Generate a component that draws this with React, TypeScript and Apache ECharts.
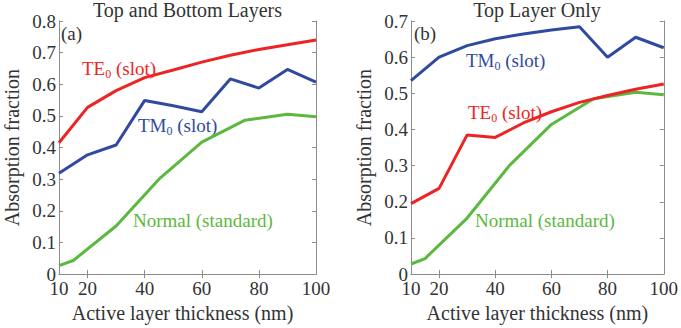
import React, { useEffect, useRef } from "react";
import * as echarts from "echarts";

const thickness = [10, 20, 30, 40, 50, 60, 70, 80, 90, 100];
const normalThickness = [10, 15, 30, 45, 60, 75, 90, 100];

const teBoth = [0.415, 0.527, 0.58, 0.621, 0.645, 0.67, 0.692, 0.71, 0.725, 0.74];
const tmBoth = [0.319, 0.377, 0.408, 0.549, 0.532, 0.513, 0.617, 0.588, 0.647, 0.607];
const normalBoth = [0.027, 0.043, 0.152, 0.3, 0.417, 0.486, 0.505, 0.497];

const teTop = [0.195, 0.237, 0.385, 0.378, 0.418, 0.449, 0.475, 0.494, 0.511, 0.526];
const tmTop = [0.535, 0.6, 0.632, 0.651, 0.664, 0.675, 0.684, 0.6, 0.655, 0.626];
const normalTop = [0.028, 0.043, 0.155, 0.3, 0.414, 0.485, 0.503, 0.496];

const xLabelValues = [10, 20, 40, 60, 80, 100];
const xTickValues = [20, 40, 60, 80];

const titles = ["Top and Bottom Layers", "Top Layer Only"];
const panelTags = ["(a)", "(b)"];
const xName = "Active layer thickness (nm)";
const yName = "Absorption fraction";

const RED = "#ee2424";
const BLUE = "#2f4a9e";
const GREEN = "#5cb83e";
const FONT = "'Liberation Serif', 'Times New Roman', serif";
const BOX = "#8c8c8c";
const TXT = "#333333";

function pairs(xs: number[], ys: number[]) {
  return xs.map((x, i) => [x, ys[i]]);
}

function subLabel(x: number, y: number, main: string, sub: string, rest: string, color: string) {
  return {
    type: "text",
    x,
    y,
    style: {
      text: `{m|${main}}{s|${sub}}{m|${rest}}`,
      fill: color,
      fontFamily: FONT,
      verticalAlign: "middle",
      rich: {
        m: { fontSize: 19, fontFamily: FONT, fill: color, lineHeight: 24 },
        s: { fontSize: 12, fontFamily: FONT, fill: color, lineHeight: 12, verticalAlign: "bottom" },
      },
    },
  };
}

function plainLabel(x: number, y: number, text: string, color: string, size = 19) {
  return {
    type: "text",
    x,
    y,
    style: { text, fill: color, fontSize: size, fontFamily: FONT, verticalAlign: "middle" },
  };
}

export default function App() {
  const ref = useRef<HTMLDivElement>(null);
  useEffect(() => {
    if (!ref.current) return;
    const chart = echarts.init(ref.current, undefined, { renderer: "svg" });
    const grids = [
      { left: 59, top: 21, width: 257, height: 256 },
      { left: 411, top: 21, width: 255, height: 256 },
    ];
    const yMax = [0.8, 0.7];
    const xAxis: any[] = [];
    const yAxis: any[] = [];
    [0, 1].forEach((g) => {
      xAxis.push({
        type: "value",
        gridIndex: g,
        min: 10,
        max: 100,
        position: "bottom",
        name: xName,
        nameLocation: "middle",
        nameGap: 23,
        nameTextStyle: { fontSize: 20, fontFamily: FONT, color: TXT, padding: g === 0 ? [0, 10, 0, 0] : 0 },
        axisLine: { show: true, lineStyle: { color: BOX, width: 1 } },
        axisTick: { show: true, inside: true, length: 4, customValues: xTickValues, lineStyle: { color: BOX } },
        axisLabel: { customValues: xLabelValues, fontSize: 19, fontFamily: FONT, color: TXT, margin: 7, lineHeight: 15 },
        splitLine: { show: false },
      });
      xAxis.push({
        type: "value",
        gridIndex: g,
        min: 10,
        max: 100,
        position: "top",
        axisLine: { show: true, lineStyle: { color: BOX, width: 1 } },
        axisTick: { show: true, inside: true, length: 4, customValues: xTickValues, lineStyle: { color: BOX } },
        axisLabel: { show: false },
        splitLine: { show: false },
      });
      yAxis.push({
        type: "value",
        gridIndex: g,
        min: 0,
        max: yMax[g],
        interval: 0.1,
        position: "left",
        name: yName,
        nameLocation: "middle",
        nameGap: 37,
        nameTextStyle: { fontSize: 20, fontFamily: FONT, color: TXT },
        axisLine: { show: true, lineStyle: { color: BOX, width: 1 } },
        axisTick: { show: true, inside: true, length: 4, lineStyle: { color: BOX } },
        axisLabel: { fontSize: 19, fontFamily: FONT, color: TXT, margin: 3, lineHeight: 13 },
        splitLine: { show: false },
      });
      yAxis.push({
        type: "value",
        gridIndex: g,
        min: 0,
        max: yMax[g],
        interval: 0.1,
        position: "right",
        axisLine: { show: true, lineStyle: { color: BOX, width: 1 } },
        axisTick: { show: true, inside: true, length: 4, lineStyle: { color: BOX } },
        axisLabel: { show: false },
        splitLine: { show: false },
      });
    });

    const line = (name: string, data: number[][], color: string, g: number) => ({
      type: "line",
      name,
      xAxisIndex: g * 2,
      yAxisIndex: g * 2,
      data,
      showSymbol: false,
      symbol: "none",
      lineStyle: { color, width: 3 },
      itemStyle: { color },
      z: color === GREEN ? 2 : 3,
    });

    chart.setOption({
      animation: false,
      backgroundColor: "#ffffff",
      title: [
        {
          text: titles[0],
          left: 187.5,
          top: 0,
          textAlign: "center",
          padding: 0,
          textStyle: { fontSize: 20, fontFamily: FONT, color: TXT, fontWeight: "normal" },
        },
        {
          text: titles[1],
          left: 537,
          top: 0,
          textAlign: "center",
          padding: 0,
          textStyle: { fontSize: 20, fontFamily: FONT, color: TXT, fontWeight: "normal" },
        },
      ],
      grid: grids,
      xAxis,
      yAxis,
      series: [
        line("TE0 (slot)", pairs(thickness, teBoth), RED, 0),
        line("TM0 (slot)", pairs(thickness, tmBoth), BLUE, 0),
        line("Normal (standard)", pairs(normalThickness, normalBoth), GREEN, 0),
        line("TE0 (slot)", pairs(thickness, teTop), RED, 1),
        line("TM0 (slot)", pairs(thickness, tmTop), BLUE, 1),
        line("Normal (standard)", pairs(normalThickness, normalTop), GREEN, 1),
      ],
      graphic: [
        plainLabel(61, 33, panelTags[0], TXT),
        plainLabel(414, 33, panelTags[1], TXT),
        subLabel(82, 68, "TE", "0", " (slot)", RED),
        subLabel(138, 125, "TM", "0", " (slot)", BLUE),
        plainLabel(133, 220, "Normal (standard)", GREEN),
        subLabel(466, 60, "TM", "0", " (slot)", BLUE),
        subLabel(468, 112, "TE", "0", " (slot)", RED),
        plainLabel(475, 220, "Normal (standard)", GREEN),
      ],
    });
    return () => chart.dispose();
  }, []);
  return (
    <div
      ref={ref}
      style={{ position: "absolute", left: 0, top: 0, width: 681, height: 328 }}
    />
  );
}
